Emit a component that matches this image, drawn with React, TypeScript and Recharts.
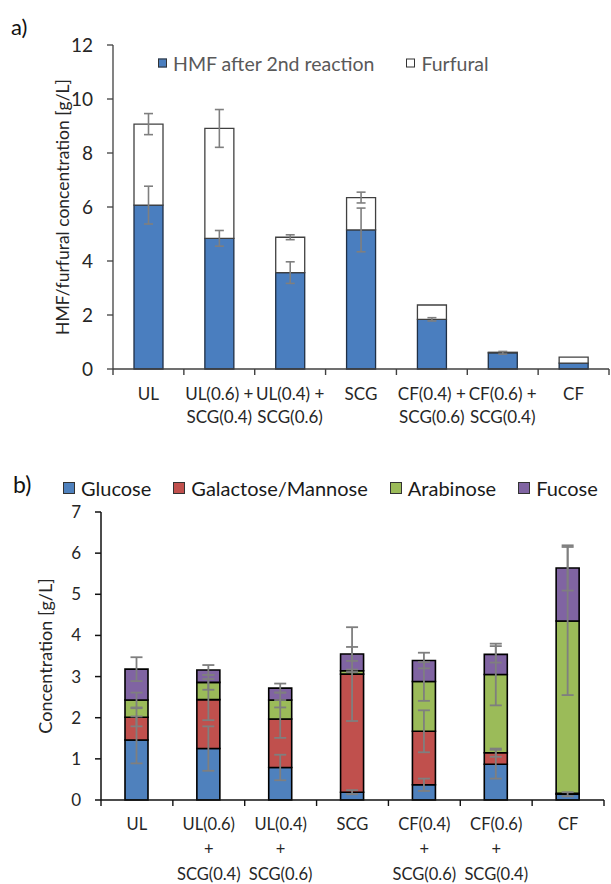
import { BarChart, Bar, XAxis, YAxis, ErrorBar } from "recharts";

const FONT = "Lato, 'Open Sans', sans-serif";
const AXIS = "#404040";
const ERR = "#7f7f7f";

// a) HMF / furfural
const topCategories = [
  "UL",
  "UL(0.6) +\nSCG(0.4)",
  "UL(0.4) +\nSCG(0.6)",
  "SCG",
  "CF(0.4) +\nSCG(0.6)",
  "CF(0.6) +\nSCG(0.4)",
  "CF",
];
const hmf = [6.07, 4.84, 3.57, 5.15, 1.84, 0.6, 0.22];
const furfural = [3.0, 4.07, 1.31, 1.2, 0.53, 0.02, 0.22];
const hmfErr = [0.7, 0.29, 0.4, 0.81, 0.06, 0.05, 0];
const furfuralErr = [0.39, 0.7, 0.09, 0.2, 0, 0, 0];
const topTicks = [0, 2, 4, 6, 8, 10, 12];

// b) sugars
const bottomCategories = [
  "UL",
  "UL(0.6)\n+\nSCG(0.4)",
  "UL(0.4)\n+\nSCG(0.6)",
  "SCG",
  "CF(0.4)\n+\nSCG(0.6)",
  "CF(0.6)\n+\nSCG(0.4)",
  "CF",
];
const glucose = [1.46, 1.25, 0.79, 0.19, 0.37, 0.87, 0.14];
const galMan = [0.55, 1.19, 1.18, 2.87, 1.3, 0.28, 0.02];
const arabinose = [0.42, 0.42, 0.46, 0.08, 1.21, 1.9, 4.19];
const fucose = [0.75, 0.3, 0.29, 0.41, 0.51, 0.49, 1.29];
const glucoseErr = [0.57, 0.54, 0.31, 0.05, 0.15, 0.35, 0.05];
const galManErr = [0.22, 0.5, 0.46, 1.14, 0.51, 0.1, 0];
const arabinoseErr = [0.18, 0.18, 0.18, 0.03, 0.47, 0.75, 1.8];
const fucoseErr = [0.29, 0.12, 0.11, 0.17, 0.19, 0.2, 0.55];
const bottomTicks = [0, 1, 2, 3, 4, 5, 6, 7];

const topSeries = [
  { key: "hmf", name: "HMF after 2nd reaction", color: "#4a7ebf" },
  { key: "furfural", name: "Furfural", color: "#ffffff" },
];
const bottomSeries = [
  { key: "glucose", name: "Glucose", color: "#4f81bd" },
  { key: "galMan", name: "Galactose/Mannose", color: "#c0504d" },
  { key: "arabinose", name: "Arabinose", color: "#9bbb59" },
  { key: "fucose", name: "Fucose", color: "#8064a2" },
];

const topData = topCategories.map((name, i) => ({
  name,
  hmf: hmf[i],
  furfural: furfural[i],
  hmfErr: hmfErr[i],
  furfuralErr: furfuralErr[i],
}));

const bottomData = bottomCategories.map((name, i) => ({
  name,
  glucose: glucose[i],
  galMan: galMan[i],
  arabinose: arabinose[i],
  fucose: fucose[i],
  glucoseErr: glucoseErr[i],
  galManErr: galManErr[i],
  arabinoseErr: arabinoseErr[i],
  fucoseErr: fucoseErr[i],
}));

function CategoryTick(props: any) {
  const { x, y, payload, index, visibleTicksCount, fontSize, lineHeight, firstDy, color } = props;
  const lines = String(payload.value).split("\n");
  const off = payload.offset ?? 0;
  const last = index === visibleTicksCount - 1;
  return (
    <g>
      <line x1={x - off} x2={x - off} y1={y} y2={y + 6} stroke={color} strokeWidth={1.4} />
      {last && <line x1={x + off} x2={x + off} y1={y} y2={y + 6} stroke={color} strokeWidth={1.4} />}
      <text x={x} y={y} textAnchor="middle" fill="#262626" fontSize={fontSize} fontFamily={FONT}>
        {lines.map((l, i) => (
          <tspan key={i} x={x} dy={i === 0 ? firstDy : lineHeight}>
            {l}
          </tspan>
        ))}
      </text>
    </g>
  );
}

function LegendRow({ items, left, top, box, fontSize, gap, color }: any) {
  return (
    <div
      style={{
        position: "absolute",
        left,
        top,
        width: "max-content",
        display: "flex",
        alignItems: "center",
        gap,
        whiteSpace: "nowrap",
        transform: "translateY(-50%)",
      }}
    >
      {items.map((s: any) => (
        <div key={s.key} style={{ display: "flex", alignItems: "center", gap: 6 }}>
          <div style={{ width: box, height: box, background: s.color, border: "1.5px solid #333", boxSizing: "border-box" }} />
          <span style={{ fontSize, color, fontFamily: FONT }}>{s.name}</span>
        </div>
      ))}
    </div>
  );
}

function VTitle({ text, cx, cy, fontSize }: any) {
  return (
    <div
      style={{
        position: "absolute",
        left: cx,
        top: cy,
        transform: "translate(-50%, -50%) rotate(-90deg)",
        whiteSpace: "nowrap",
        fontSize,
        fontFamily: FONT,
        color: "#262626",
      }}
    >
      {text}
    </div>
  );
}

export default function App() {
  return (
    <div style={{ position: "absolute", left: 0, top: 0, width: 611, height: 884, background: "#fff", fontFamily: FONT, overflow: "hidden" }}>
      <div style={{ position: "absolute", left: 11, top: 13, fontSize: 22, color: "#111" }}>a)</div>
      <div style={{ position: "absolute", left: 13, top: 470, fontSize: 23, color: "#111" }}>b)</div>

      <div style={{ position: "absolute", left: 0, top: 0 }}>
        <BarChart width={611} height={440} data={topData} margin={{ top: 45, right: 2, bottom: 0, left: 0 }} barSize={29}>
          <XAxis
            dataKey="name"
            height={71}
            interval={0}
            tickLine={false}
            tickSize={0}
            tickMargin={0}
            stroke={AXIS}
            strokeWidth={1.3}
            tick={<CategoryTick fontSize={17} lineHeight={23} firstDy={31} color={AXIS} />}
          />
          <YAxis
            width={113}
            domain={[0, 12]}
            ticks={topTicks}
            stroke={AXIS}
            strokeWidth={1.3}
            tickSize={6}
            tickMargin={14}
            tick={{ fontSize: 19, fill: "#262626", fontFamily: FONT }}
          />
          <Bar dataKey="hmf" stackId="a" fill={topSeries[0].color} stroke="#1f2f45" strokeWidth={1.3} isAnimationActive={false}>
            <ErrorBar dataKey="hmfErr" width={4.5} stroke={ERR} strokeWidth={1.6} />
          </Bar>
          <Bar dataKey="furfural" stackId="a" fill={topSeries[1].color} stroke="#404040" strokeWidth={1.3} isAnimationActive={false}>
            <ErrorBar dataKey="furfuralErr" width={4.5} stroke={ERR} strokeWidth={1.6} />
          </Bar>
        </BarChart>
      </div>
      <LegendRow items={topSeries} left={158} top={63} box={9} fontSize={19.5} gap={32} color="#595959" />
      <VTitle text="HMF/furfural concentration [g/L]" cx={62} cy={207} fontSize={17.5} />

      <div style={{ position: "absolute", left: 0, top: 470 }}>
        <BarChart width={611} height={414} data={bottomData} margin={{ top: 42, right: 7, bottom: 0, left: 0 }} barSize={23}>
          <XAxis
            dataKey="name"
            height={84}
            interval={0}
            tickLine={false}
            tickSize={0}
            tickMargin={0}
            stroke="#111"
            strokeWidth={1.5}
            tick={<CategoryTick fontSize={16.5} lineHeight={25} firstDy={30} color="#111" />}
          />
          <YAxis
            width={101}
            domain={[0, 7]}
            ticks={bottomTicks}
            stroke="#111"
            strokeWidth={1.5}
            tickSize={6}
            tickMargin={14}
            tick={{ fontSize: 17, fill: "#262626", fontFamily: FONT }}
          />
          {bottomSeries.map((s) => (
            <Bar key={s.key} dataKey={s.key} stackId="b" fill={s.color} stroke="#000" strokeWidth={1.6} isAnimationActive={false}>
              <ErrorBar dataKey={s.key + "Err"} width={6} stroke={ERR} strokeWidth={1.8} />
            </Bar>
          ))}
        </BarChart>
      </div>
      <LegendRow items={bottomSeries} left={63} top={488} box={12} fontSize={20} gap={22} color="#1a1a1a" />
      <VTitle text="Concentration [g/L]" cx={45} cy={656} fontSize={18} />
    </div>
  );
}
